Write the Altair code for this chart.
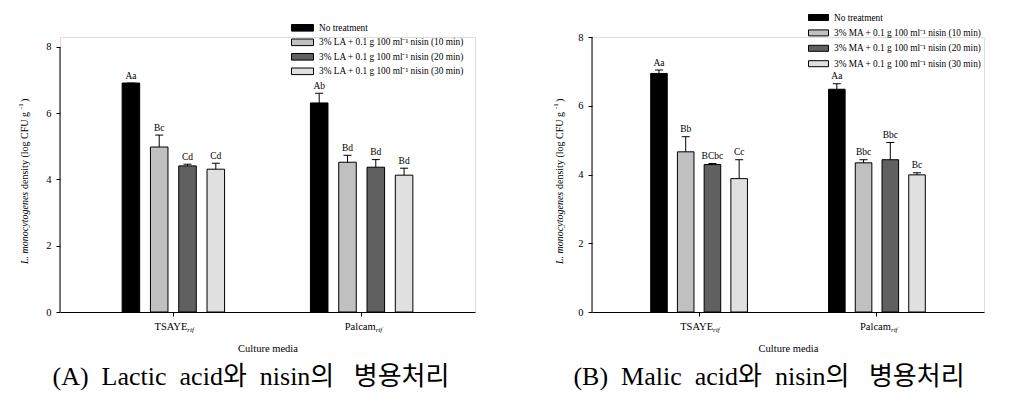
import altair as alt
import pandas as pd

# ---------------- data ----------------
media = ["TSAYE", "Palcam"]
media_sub = ["rif", "rif"]

treat_A = [
    "No treatment",
    "3% LA + 0.1 g 100 ml\u207b\u00b9 nisin (10 min)",
    "3% LA + 0.1 g 100 ml\u207b\u00b9 nisin (20 min)",
    "3% LA + 0.1 g 100 ml\u207b\u00b9 nisin (30 min)",
]
treat_B = [
    "No treatment",
    "3% MA + 0.1 g 100 ml\u207b\u00b9 nisin (10 min)",
    "3% MA + 0.1 g 100 ml\u207b\u00b9 nisin (20 min)",
    "3% MA + 0.1 g 100 ml\u207b\u00b9 nisin (30 min)",
]

# Panel A (lactic acid + nisin)
A_TSAYE_val = [6.91, 4.98, 4.41, 4.31]
A_TSAYE_err = [0.00, 0.36, 0.05, 0.18]
A_TSAYE_let = ["Aa", "Bc", "Cd", "Cd"]
A_Palcam_val = [6.31, 4.52, 4.37, 4.13]
A_Palcam_err = [0.29, 0.21, 0.23, 0.21]
A_Palcam_let = ["Ab", "Bd", "Bd", "Bd"]

# Panel B (malic acid + nisin)
B_TSAYE_val = [6.94, 4.66, 4.29, 3.88]
B_TSAYE_err = [0.10, 0.44, 0.03, 0.55]
B_TSAYE_let = ["Aa", "Bb", "BCbc", "Cc"]
B_Palcam_val = [6.48, 4.34, 4.43, 3.99]
B_Palcam_err = [0.16, 0.09, 0.50, 0.06]
B_Palcam_let = ["Aa", "Bbc", "Bbc", "Bc"]

bar_colors = ["#000000", "#c0c0c0", "#606060", "#e0e0e0"]
y_ticks = [0, 2, 4, 6, 8]
y_axis_max = 8

ytitle_italic = "L. monocytogenes"
ytitle_main = "density (log CFU g"
ytitle_sup = "-1"
ytitle_close = ")"
x_title = "Culture media"
caption_A = "(A)\u00a0\u00a0Lactic\u00a0\u00a0acid와\u00a0\u00a0nisin의\u00a0\u00a0\u00a0병용처리"
caption_B = "(B)\u00a0\u00a0Malic\u00a0\u00a0acid와\u00a0\u00a0nisin의\u00a0\u00a0\u00a0병용처리"

SERIF = "Liberation Serif"
CAP_FONT = "'Liberation Serif', 'Noto Sans CJK KR'"

H = 275  # common plot height of both panels


def panel(treats, tv, te, tl, pv, pe, pl, w, y_top, caption, cap_dx,
          leg_x, leg_y, sym_w, row_pad, ytx, spacer=None):
    h = H
    rows = []
    for m, vs, es, ls in [("TSAYE", tv, te, tl), ("Palcam", pv, pe, pl)]:
        for t, v, e, l in zip(treats, vs, es, ls):
            rows.append(dict(media=m, treat=t, value=v, top=v + e, letter=l))
    df = pd.DataFrame(rows)
    labdf = pd.DataFrame({"media": media, "sub": media_sub})

    xenc = alt.X(
        "media:N", sort=media,
        scale=alt.Scale(paddingInner=0.456, paddingOuter=0.33),
        axis=alt.Axis(labels=False, title=x_title, tickSize=4, titlePadding=27,
                      titleFont=SERIF, titleFontSize=10.5, titleFontWeight="normal",
                      domainColor="black", tickColor="black", titleColor="black"),
    )
    xoff = alt.XOffset("treat:N", sort=treats,
                       scale=alt.Scale(paddingInner=0.38, paddingOuter=0))
    yscale = alt.Scale(domain=[0, y_top], nice=False)
    yaxis = alt.Axis(values=y_ticks, title=None, tickSize=4, labelPadding=5,
                     labelFont=SERIF, labelFontSize=10.5, labelColor="black",
                     domain=False, tickColor="black", grid=False)
    yenc = alt.Y("value:Q", scale=yscale, axis=yaxis)
    r = sym_w / 4.0  # half of sqrt(symbolSize)
    legend = alt.Legend(
        title=None, orient="none", legendX=leg_x + r, legendY=leg_y - r,
        symbolType="M-2,-0.6L2,-0.6L2,0.6L-2,0.6Z", symbolSize=(2 * r) ** 2,
        symbolStrokeColor="black", symbolStrokeWidth=1, symbolOpacity=1,
        labelFont=SERIF, labelFontSize=9.3, labelColor="black",
        labelOffset=r + 5, rowPadding=row_pad, labelLimit=400,
    )
    base = alt.Chart(df)
    axis_line = alt.Chart(pd.DataFrame({"k": [0]})).mark_rule(
        color="black", strokeWidth=1).encode(
        x=alt.value(0),
        y=alt.Y(datum=0, scale=yscale, axis=yaxis),
        y2=alt.datum(y_axis_max),
    )
    bars = base.mark_bar(stroke="black", strokeWidth=1, opacity=1).encode(
        x=xenc, xOffset=xoff, y=yenc,
        color=alt.Color("treat:N", scale=alt.Scale(domain=treats, range=bar_colors),
                        legend=legend),
    )
    errs = base.mark_rule(color="black", strokeWidth=1).encode(
        x=xenc, xOffset=xoff, y="value:Q", y2="top:Q")
    caps = base.mark_tick(orient="horizontal", color="black", size=8,
                          thickness=1, opacity=1).encode(
        x=xenc, xOffset=xoff, y="top:Q")
    letters = base.mark_text(font=SERIF, fontSize=9.5, baseline="alphabetic",
                             dy=-4.5, color="black").encode(
        x=xenc, xOffset=xoff, y="top:Q", text="letter:N")

    lab_main = alt.Chart(labdf).mark_text(
        font=SERIF, fontSize=10.5, align="right", baseline="middle", dx=14,
        color="black").encode(x=xenc, y=alt.value(h + 15), text="media:N")
    lab_sub = alt.Chart(labdf).mark_text(
        font=SERIF, fontSize=7, fontStyle="italic", align="left",
        baseline="middle", dx=14, color="black").encode(
        x=xenc, y=alt.value(h + 18), text="sub:N")

    one = pd.DataFrame({"k": [0]})
    yb = h - 48
    t1 = alt.Chart(one).mark_text(text=ytitle_italic, font=SERIF, fontSize=10,
                                  fontStyle="italic", angle=270, align="left",
                                  baseline="middle", color="black").encode(
        x=alt.value(ytx), y=alt.value(yb))
    t2 = alt.Chart(one).mark_text(text=ytitle_main, font=SERIF, fontSize=10,
                                  angle=270, align="left", baseline="middle",
                                  color="black").encode(
        x=alt.value(ytx), y=alt.value(yb - 75))
    t3 = alt.Chart(one).mark_text(text=ytitle_sup, font=SERIF, fontSize=7,
                                  angle=270, align="left", baseline="middle",
                                  color="black").encode(
        x=alt.value(ytx - 4), y=alt.value(yb - 75 - 80))
    t4 = alt.Chart(one).mark_text(text=ytitle_close, font=SERIF, fontSize=10,
                                  angle=270, align="left", baseline="middle",
                                  color="black").encode(
        x=alt.value(ytx), y=alt.value(yb - 75 - 80 - 7))
    layers = [axis_line, bars, errs, caps, letters, lab_main, lab_sub, t1, t2, t3, t4]
    if spacer is not None:
        sp = alt.Chart(one).mark_text(text=".", fontSize=2, opacity=0,
                                      baseline="top").encode(
            x=alt.value(0), y=alt.value(spacer))
        layers.append(sp)
    return alt.layer(*layers).properties(
        width=w, height=h,
        title=alt.TitleParams(caption, orient="bottom", anchor="middle", frame="group",
                              font=CAP_FONT, fontSize=26, fontWeight="normal",
                              color="black", offset=10, dx=cap_dx),
    )


# Panel A: 33.1 px per unit over a 275 px plot -> scale top at 8.3 (axis line stops at 8)
chart_A = panel(treat_A, A_TSAYE_val, A_TSAYE_err, A_TSAYE_let,
                A_Palcam_val, A_Palcam_err, A_Palcam_let,
                415, 8.30, caption_A, -16.5, 231, -9.7, 22, 2.5, -35)
chart_B = panel(treat_B, B_TSAYE_val, B_TSAYE_err, B_TSAYE_let,
                B_Palcam_val, B_Palcam_err, B_Palcam_let,
                392, 8.0, caption_B, -19, 216, -20, 20, 4.4, -32, spacer=-27.7)

chart = alt.hconcat(chart_A, chart_B, spacing=75).resolve_scale(
    color="independent", x="independent", y="independent", xOffset="independent"
).resolve_legend(color="independent").properties(
    padding={"left": 8, "top": 0, "right": 5, "bottom": 5}
).configure_view(stroke=None).configure(font=SERIF)

chart.save("out.html", embed_options={"renderer": "svg", "actions": False})
